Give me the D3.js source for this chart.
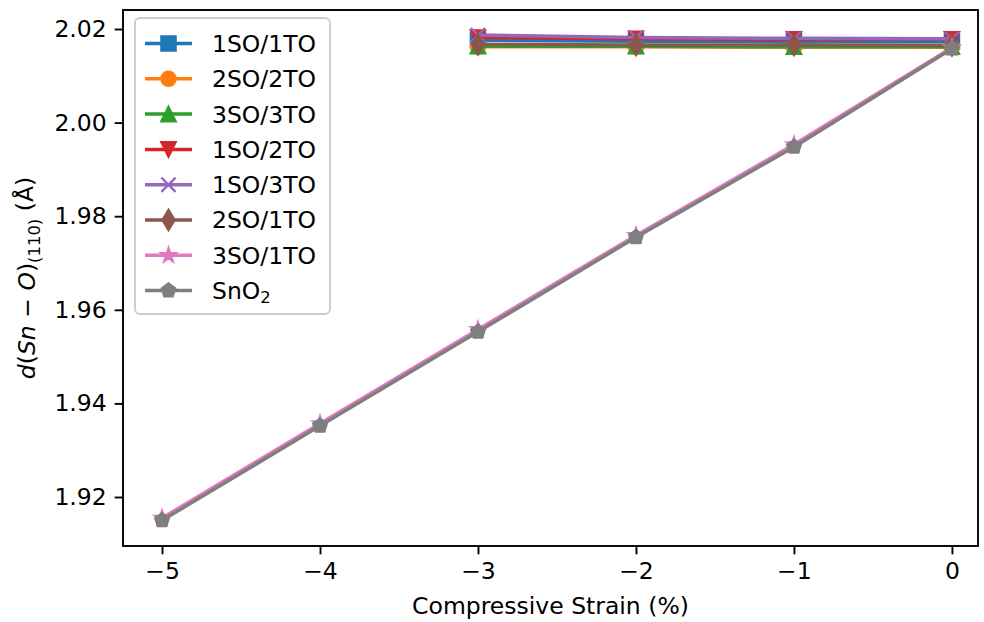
<!DOCTYPE html>
<html>
<head>
<meta charset="utf-8">
<script src="https://cdn.jsdelivr.net/npm/d3@7"></script>
<style>
  body { margin: 0; background: #fff; }
  svg text { font-family: "DejaVu Sans", sans-serif; fill: #000; }
</style>
</head>
<body>
<div id="chart"></div>
<script>
//Data
var strainShort = [-3, -2, -1, 0]
var strainLong = [-5, -4, -3, -2, -1, 0]
var xTicks = [-5, -4, -3, -2, -1, 0]
var yTicks = [1.92, 1.94, 1.96, 1.98, 2.00, 2.02]

var seriesNames = ["1SO/1TO", "2SO/2TO", "3SO/3TO", "1SO/2TO", "1SO/3TO", "2SO/1TO", "3SO/1TO", "SnO2"]
var seriesColors = ["#1f77b4", "#ff7f0e", "#2ca02c", "#d62728", "#9467bd", "#8c564b", "#e377c2", "#7f7f7f"]
var seriesMarkers = ["square", "circle", "triUp", "triDown", "cross", "thinDiamond", "star", "pentagon"]

var so1to1 = [2.0176, 2.0174, 2.0173, 2.0173]
var so2to2 = [2.0162, 2.0162, 2.0161, 2.0161]
var so3to3 = [2.0163, 2.0163, 2.0162, 2.0162]
var so1to2 = [2.0182, 2.0179, 2.0178, 2.0178]
var so1to3 = [2.0187, 2.0182, 2.0180, 2.0179]
var so2to1 = [2.0167, 2.0166, 2.0166, 2.0165]
var so3to1 = [1.9155, 1.9357, 1.9558, 1.9759, 1.9953, 2.0160]
var sno2 = [1.9150, 1.9352, 1.9553, 1.9755, 1.9948, 2.0158]

var allValues = [so1to1, so2to2, so3to3, so1to2, so1to3, so2to1, so3to1, sno2]
var allStrains = [strainShort, strainShort, strainShort, strainShort, strainShort, strainShort, strainLong, strainLong]

//Sizes
var width = 984
var height = 622
var margin = {top: 10, left: 123, right: 6, bottom: 76}
var fontSize = 23.5
var lineW = 3.5
var markerSize = 14.2
var edgeW = 2.36

var svg = d3.select("#chart")
            .append("svg")
            .attr("width", width)
            .attr("height", height)

var plotW = width - margin.left - margin.right
var plotH = height - margin.top - margin.bottom

//Scales
var xScale = d3.scaleLinear()
               .domain([-5.247, 0.165])
               .range([margin.left, margin.left + plotW])

var yScale = d3.scaleLinear()
               .domain([1.90953, 2.02406])
               .range([margin.top + plotH, margin.top])

//Marker shapes (path around 0,0)
function markerPath(kind, s) {
  var r = s / 2
  if (kind == "square") return "M" + (-r) + "," + (-r) + "h" + s + "v" + s + "h" + (-s) + "Z"
  if (kind == "circle") return d3.symbol().type(d3.symbolCircle).size(Math.PI * r * r)()
  if (kind == "triUp") return "M0," + (-r) + "L" + r + "," + r + "L" + (-r) + "," + r + "Z"
  if (kind == "triDown") return "M0," + r + "L" + r + "," + (-r) + "L" + (-r) + "," + (-r) + "Z"
  if (kind == "cross") return "M" + (-r) + "," + (-r) + "L" + r + "," + r + "M" + r + "," + (-r) + "L" + (-r) + "," + r
  if (kind == "thinDiamond") {
    var h = s * Math.SQRT2 / 2
    var w = h * 0.6
    return "M0," + (-h) + "L" + w + ",0L0," + h + "L" + (-w) + ",0Z"
  }
  if (kind == "star") {
    var pts = []
    for (var i = 0; i < 10; i++) {
      var rr = (i % 2 == 0) ? r : r * 0.381966
      var a = -Math.PI / 2 + i * Math.PI / 5
      pts.push([rr * Math.cos(a), rr * Math.sin(a)])
    }
    return "M" + pts.join("L") + "Z"
  }
  if (kind == "pentagon") {
    var pp = []
    for (var j = 0; j < 5; j++) {
      var b = -Math.PI / 2 + j * 2 * Math.PI / 5
      pp.push([r * Math.cos(b), r * Math.sin(b)])
    }
    return "M" + pp.join("L") + "Z"
  }
}

function drawMarker(g, kind, color, x, y) {
  var p = g.append("path")
           .attr("d", markerPath(kind, markerSize))
           .attr("transform", "translate(" + x + "," + y + ")")
           .attr("stroke", color)
           .attr("stroke-width", edgeW)
           .attr("stroke-linejoin", "miter")
  if (kind == "cross") p.attr("fill", "none")
  else p.attr("fill", color)
}

//Axes
var xAxis = d3.axisBottom(xScale)
              .tickValues(xTicks)
              .tickSize(8.3)
              .tickPadding(8)
              .tickFormat(function (d) { return d < 0 ? "\u2212" + Math.abs(d) : d })

var yAxis = d3.axisLeft(yScale)
              .tickValues(yTicks)
              .tickSize(8.3)
              .tickPadding(8)
              .tickFormat(d3.format(".2f"))

var gx = svg.append("g")
            .attr("transform", "translate(0," + (margin.top + plotH) + ")")
            .call(xAxis)
var gy = svg.append("g")
            .attr("transform", "translate(" + margin.left + ",0)")
            .call(yAxis)

svg.selectAll(".domain").remove()
svg.selectAll(".tick line").attr("stroke", "#000").attr("stroke-width", 1.9)
svg.selectAll(".tick text").style("font-size", fontSize + "px").attr("fill", "#000")

//Series: each line with its markers, in plotting order
var plot = svg.append("g")
var lineGen = d3.line()

for (var k = 0; k < seriesNames.length; k++) {
  var pts = allStrains[k].map(function (s, i) { return [xScale(s), yScale(allValues[k][i])] })
  var g = plot.append("g")
  g.append("path")
   .attr("d", lineGen(pts))
   .attr("fill", "none")
   .attr("stroke", seriesColors[k])
   .attr("stroke-width", lineW)
   .attr("stroke-linecap", "square")
   .attr("stroke-linejoin", "round")
  for (var m = 0; m < pts.length; m++) {
    drawMarker(g, seriesMarkers[k], seriesColors[k], pts[m][0], pts[m][1])
  }
}

//Frame
svg.append("rect")
   .attr("x", margin.left)
   .attr("y", margin.top)
   .attr("width", plotW)
   .attr("height", plotH)
   .attr("fill", "none")
   .attr("stroke", "#000")
   .attr("stroke-width", 1.9)

//Legend
var legend = svg.append("g")
legend.append("rect")
      .attr("x", 135)
      .attr("y", 18)
      .attr("width", 195)
      .attr("height", 296)
      .attr("rx", 5)
      .attr("fill", "#fff")
      .attr("fill-opacity", 0.8)
      .attr("stroke", "#cccccc")
      .attr("stroke-width", 1.9)

for (var n = 0; n < seriesNames.length; n++) {
  var ly = 43.5 + n * 35.3
  legend.append("line")
        .attr("x1", 145).attr("x2", 192)
        .attr("y1", ly).attr("y2", ly)
        .attr("stroke", seriesColors[n])
        .attr("stroke-width", lineW)
  drawMarker(legend, seriesMarkers[n], seriesColors[n], 168.5, ly)
  var t = legend.append("text")
                .attr("x", 212)
                .attr("y", ly)
                .attr("dy", "0.36em")
                .style("font-size", fontSize + "px")
  if (seriesNames[n] == "SnO2") {
    t.append("tspan").text("SnO")
    t.append("tspan").text("2").attr("dy", "0.22em").style("font-size", (fontSize * 0.7) + "px")
  } else {
    t.text(seriesNames[n])
  }
}

//Axis labels
svg.append("text")
   .attr("x", margin.left + plotW / 2)
   .attr("y", 614)
   .attr("text-anchor", "middle")
   .style("font-size", fontSize + "px")
   .text("Compressive Strain (%)")

var yl = svg.append("text")
            .attr("transform", "translate(35," + (margin.top + plotH / 2) + ") rotate(-90)")
            .attr("text-anchor", "middle")
            .style("font-size", fontSize + "px")
yl.append("tspan").text("d").style("font-style", "italic")
yl.append("tspan").text("(")
yl.append("tspan").text("Sn").style("font-style", "italic")
yl.append("tspan").text(" \u2212 ")
yl.append("tspan").text("O").style("font-style", "italic")
yl.append("tspan").text(")")
yl.append("tspan").text("(110)").attr("dy", "0.3em").style("font-size", (fontSize * 0.7) + "px")
yl.append("tspan").text(" (\u00c5)").attr("dy", "-0.3em")
</script>
</body>
</html>
